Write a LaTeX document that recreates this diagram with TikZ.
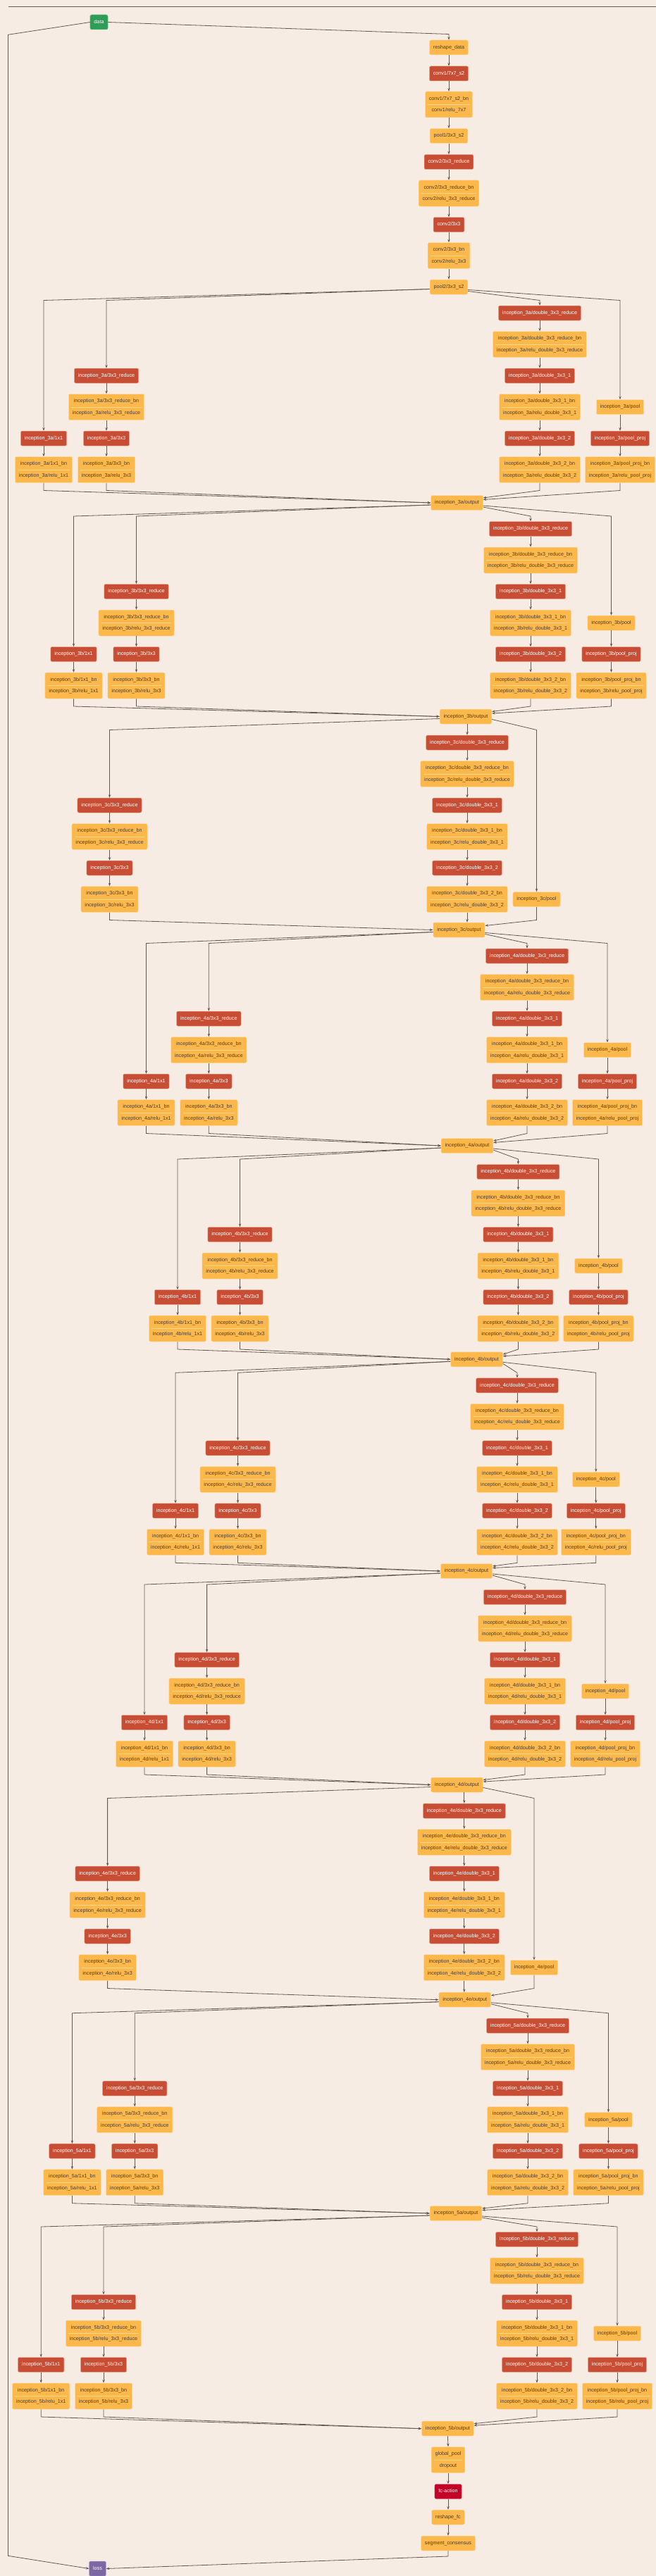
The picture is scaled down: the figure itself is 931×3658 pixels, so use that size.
\documentclass[tikz,border=0pt]{standalone}
\usepackage{fontspec}
\setmainfont{Liberation Sans}
\usetikzlibrary{arrows.meta}
\definecolor{bgc}{RGB}{247,236,227}
\definecolor{ocol}{RGB}{253,184,76}
\definecolor{oedge}{RGB}{255,222,172}
\definecolor{sepcol}{RGB}{255,216,140}
\definecolor{otext}{RGB}{78,60,42}
\definecolor{rcol}{RGB}{199,78,52}
\definecolor{redge}{RGB}{236,170,150}
\definecolor{gcol}{RGB}{46,158,86}
\definecolor{ccol}{RGB}{194,0,40}
\definecolor{pcol}{RGB}{125,104,165}
\definecolor{ecol}{RGB}{100,88,80}
\tikzset{
  box/.style={rectangle, rounded corners=2pt, minimum height=21pt, inner xsep=5.5pt, inner ysep=2pt,
    font=\fontsize{7.2}{8}\selectfont, text height=5.3pt, text depth=1.5pt, line width=0.5pt},
  obox/.style={box, fill=ocol, draw=oedge, text=otext},
  redbox/.style={box, fill=rcol, draw=redge, text=white},
  greenbox/.style={box, fill=gcol, draw=gcol!60!white, text=white},
  crimbox/.style={box, fill=ccol, draw=ccol!50!white, text=white},
  purplebox/.style={box, fill=pcol, draw=pcol!60!white, text=white},
  obox2/.style={rectangle, rounded corners=2pt, fill=ocol, draw=oedge, line width=0.5pt, text=otext,
    minimum height=37pt, inner xsep=5.5pt, inner ysep=2pt, align=center,
    font=\fontsize{7.2}{16.5}\selectfont,
    path picture={\draw[sepcol, line width=0.9pt]
      ([xshift=4pt]path picture bounding box.west) -- ([xshift=-4pt]path picture bounding box.east);}},
  edge/.style={draw=ecol, line width=0.8pt, -{Stealth[length=4.5pt,width=3.4pt]}},
  plainline/.style={draw=ecol, line width=0.9pt}
}
% #1 name, #2 prev out y, #3 c1, #4 c2, #5 c3, #6 c4, #7 prev node, #8 out x, #9 out y
\newcommand{\InceptA}[9]{%
  \node[redbox] (#1-1x1) at (#3, #2+215) {inception\_#1/1x1};
  \node[obox2] (#1-1x1bn) at (#3, #2+259.5) {inception\_#1/1x1\_bn\\inception\_#1/relu\_1x1};
  \node[redbox] (#1-3r) at (#4, #2+126) {inception\_#1/3x3\_reduce};
  \node[obox2] (#1-3rbn) at (#4, #2+170.5) {inception\_#1/3x3\_reduce\_bn\\inception\_#1/relu\_3x3\_reduce};
  \node[redbox] (#1-3) at (#4, #2+215) {inception\_#1/3x3};
  \node[obox2] (#1-3bn) at (#4, #2+259.5) {inception\_#1/3x3\_bn\\inception\_#1/relu\_3x3};
  \node[redbox] (#1-dr) at (#5, #2+37) {inception\_#1/double\_3x3\_reduce};
  \node[obox2] (#1-drbn) at (#5, #2+81.5) {inception\_#1/double\_3x3\_reduce\_bn\\inception\_#1/relu\_double\_3x3\_reduce};
  \node[redbox] (#1-d1) at (#5, #2+126) {inception\_#1/double\_3x3\_1};
  \node[obox2] (#1-d1bn) at (#5, #2+170.5) {inception\_#1/double\_3x3\_1\_bn\\inception\_#1/relu\_double\_3x3\_1};
  \node[redbox] (#1-d2) at (#5, #2+215) {inception\_#1/double\_3x3\_2};
  \node[obox2] (#1-d2bn) at (#5, #2+259.5) {inception\_#1/double\_3x3\_2\_bn\\inception\_#1/relu\_double\_3x3\_2};
  \node[obox] (#1-pool) at (#6, #2+170.5) {inception\_#1/pool};
  \node[redbox] (#1-pp) at (#6, #2+215) {inception\_#1/pool\_proj};
  \node[obox2] (#1-ppbn) at (#6, #2+259.5) {inception\_#1/pool\_proj\_bn\\inception\_#1/relu\_pool\_proj};
  \node[obox] (#1-out) at (#8, #9) {inception\_#1/output};
  \draw[edge] ([yshift=-3pt]#7.west) -- (#3, #2+19) -- (#1-1x1.north);
  \draw[edge] ([yshift=-3pt]#7.west) -- (#4, #2+19) -- (#1-3r.north);
  \draw[edge] ([yshift=-6pt]#7.east) -- (#5, #2+19) -- (#1-dr.north);
  \draw[edge] ([yshift=-4pt]#7.east) -- (#6, #2+19) -- (#1-pool.north);
  \draw[edge] (#1-1x1.south) -- (#1-1x1bn.north);
  \draw[edge] (#1-3r.south) -- (#1-3rbn.north);
  \draw[edge] (#1-3rbn.south) -- (#1-3.north);
  \draw[edge] (#1-3.south) -- (#1-3bn.north);
  \draw[edge] (#1-dr.south) -- (#1-drbn.north);
  \draw[edge] (#1-drbn.south) -- (#1-d1.north);
  \draw[edge] (#1-d1.south) -- (#1-d1bn.north);
  \draw[edge] (#1-d1bn.south) -- (#1-d2.north);
  \draw[edge] (#1-d2.south) -- (#1-d2bn.north);
  \draw[edge] (#1-pool.south) -- (#1-pp.north);
  \draw[edge] (#1-pp.south) -- (#1-ppbn.north);
  \draw[edge] (#1-1x1bn.south) -- (#3, #2+289) -- (#1-out.west);
  \draw[edge] (#1-3bn.south) -- (#4, #2+289) -- (#1-out.west);
  \draw[edge] (#1-d2bn.south) -- (#5, #2+289) -- ([yshift=7pt]#1-out.east);
  \draw[edge] (#1-ppbn.south) -- (#6, #2+289) -- ([yshift=4.5pt]#1-out.east);
}
% #1 name, #2 prev out y, #3 c2, #4 c3, #5 c4, #6 prev node, #7 out x, #8 out y
\newcommand{\InceptB}[8]{%
  \node[redbox] (#1-3r) at (#3, #2+126) {inception\_#1/3x3\_reduce};
  \node[obox2] (#1-3rbn) at (#3, #2+170.5) {inception\_#1/3x3\_reduce\_bn\\inception\_#1/relu\_3x3\_reduce};
  \node[redbox] (#1-3) at (#3, #2+215) {inception\_#1/3x3};
  \node[obox2] (#1-3bn) at (#3, #2+259.5) {inception\_#1/3x3\_bn\\inception\_#1/relu\_3x3};
  \node[redbox] (#1-dr) at (#4, #2+37) {inception\_#1/double\_3x3\_reduce};
  \node[obox2] (#1-drbn) at (#4, #2+81.5) {inception\_#1/double\_3x3\_reduce\_bn\\inception\_#1/relu\_double\_3x3\_reduce};
  \node[redbox] (#1-d1) at (#4, #2+126) {inception\_#1/double\_3x3\_1};
  \node[obox2] (#1-d1bn) at (#4, #2+170.5) {inception\_#1/double\_3x3\_1\_bn\\inception\_#1/relu\_double\_3x3\_1};
  \node[redbox] (#1-d2) at (#4, #2+215) {inception\_#1/double\_3x3\_2};
  \node[obox2] (#1-d2bn) at (#4, #2+259.5) {inception\_#1/double\_3x3\_2\_bn\\inception\_#1/relu\_double\_3x3\_2};
  \node[obox] (#1-pool) at (#5, #2+259.5) {inception\_#1/pool};
  \node[obox] (#1-out) at (#7, #8) {inception\_#1/output};
  \draw[edge] ([yshift=-3pt]#6.west) -- (#3, #2+19) -- (#1-3r.north);
  \draw[edge] (#6.south -| #1-dr.north) -- (#1-dr.north);
  \draw[edge] ([yshift=-4pt]#6.east) -- (#5, #2+19) -- (#1-pool.north);
  \draw[edge] (#1-3r.south) -- (#1-3rbn.north);
  \draw[edge] (#1-3rbn.south) -- (#1-3.north);
  \draw[edge] (#1-3.south) -- (#1-3bn.north);
  \draw[edge] (#1-dr.south) -- (#1-drbn.north);
  \draw[edge] (#1-drbn.south) -- (#1-d1.north);
  \draw[edge] (#1-d1.south) -- (#1-d1bn.north);
  \draw[edge] (#1-d1bn.south) -- (#1-d2.north);
  \draw[edge] (#1-d2.south) -- (#1-d2bn.north);
  \draw[edge] (#1-3bn.south) -- (#3, #2+289) -- (#1-out.west);
  \draw[edge] (#1-d2bn.south) -- (#1-out.north -| #1-d2bn.south);
  \draw[edge] (#1-pool.south) -- (#5, #2+289) -- ([yshift=6pt]#1-out.east);
}
\begin{document}
\begin{tikzpicture}[x=1pt,y=-1pt]
\fill[bgc] (0,0) rectangle (931,3658);
\useasboundingbox (0,0) rectangle (931,3658);
% top rule
\coordinate (tl) at (12,9);
\coordinate (tr) at (931,9);
\draw[plainline] (tl) -- (tr);
% stem
\node[greenbox] (data) at (140.5,31.5) {data};
\node[obox] (reshape) at (637,67.5) {reshape\_data};
\node[redbox] (conv1) at (637,104.5) {conv1/7x7\_s2};
\node[obox2] (conv1bn) at (637,148.5) {conv1/7x7\_s2\_bn\\conv1/relu\_7x7};
\node[obox] (pool1) at (637,193) {pool1/3x3\_s2};
\node[redbox] (conv2r) at (637,230) {conv2/3x3\_reduce};
\node[obox2] (conv2rbn) at (637,274.5) {conv2/3x3\_reduce\_bn\\conv2/relu\_3x3\_reduce};
\node[redbox] (conv2) at (637,319) {conv2/3x3};
\node[obox2] (conv2bn) at (637,363) {conv2/3x3\_bn\\conv2/relu\_3x3};
\node[obox] (pool2) at (637,407.5) {pool2/3x3\_s2};
\draw[edge] (data.east) -- (637,48.5) -- (reshape.north);
\draw[edge] (reshape.south) -- (conv1.north);
\draw[edge] (conv1.south) -- (conv1bn.north);
\draw[edge] (conv1bn.south) -- (pool1.north);
\draw[edge] (pool1.south) -- (conv2r.north);
\draw[edge] (conv2r.south) -- (conv2rbn.north);
\draw[edge] (conv2rbn.south) -- (conv2.north);
\draw[edge] (conv2.south) -- (conv2bn.north);
\draw[edge] (conv2bn.south) -- (pool2.north);
% inception modules
\InceptA{3a}{407.5}{62}{151}{766}{880}{pool2}{648.5}{714}
\InceptA{3b}{714}{104.5}{193.5}{753}{867.5}{3a-out}{661}{1017.5}
\InceptB{3c}{1017.5}{155.5}{663}{761.5}{3b-out}{651.5}{1320.5}
\InceptA{4a}{1320.5}{207.5}{296.3}{748}{862}{3c-out}{663}{1627}
\InceptA{4b}{1627}{252}{340.5}{735.4}{849.4}{4a-out}{676.5}{1930.3}
\InceptA{4c}{1930.3}{249}{337.5}{734}{845.8}{4b-out}{662}{2231}
\InceptA{4d}{2231}{205}{293.6}{745}{859}{4c-out}{648.5}{2534.5}
\InceptB{4e}{2534.5}{152.6}{658.8}{758}{4d-out}{659.7}{2839.7}
\InceptA{5a}{2839.7}{102.4}{191.2}{749}{863.4}{4e-out}{647}{3143}
\InceptA{5b}{3143}{58.2}{147}{762}{876}{5a-out}{635.4}{3448.7}
% head
\node[obox2] (gpool) at (636,3493) {global\_pool\\dropout};
\node[crimbox] (fc) at (636,3538) {fc-action};
\node[obox] (rfc) at (636,3574.5) {reshape\_fc};
\node[obox] (seg) at (636,3611.5) {segment\_consensus};
\node[purplebox] (loss) at (138.5,3647.5) {loss};
\draw[edge] (5b-out.south) -- (gpool.north);
\draw[edge] (gpool.south) -- (fc.north);
\draw[edge] (fc.south) -- (rfc.north);
\draw[edge] (rfc.south) -- (seg.north);
\draw[edge] (seg.south) -- (636,3630) -- (loss.east);
\draw[edge] (data.west) -- (11.5,49.3) -- (11.5,3629.3) -- (loss.west);
\end{tikzpicture}
\end{document}
